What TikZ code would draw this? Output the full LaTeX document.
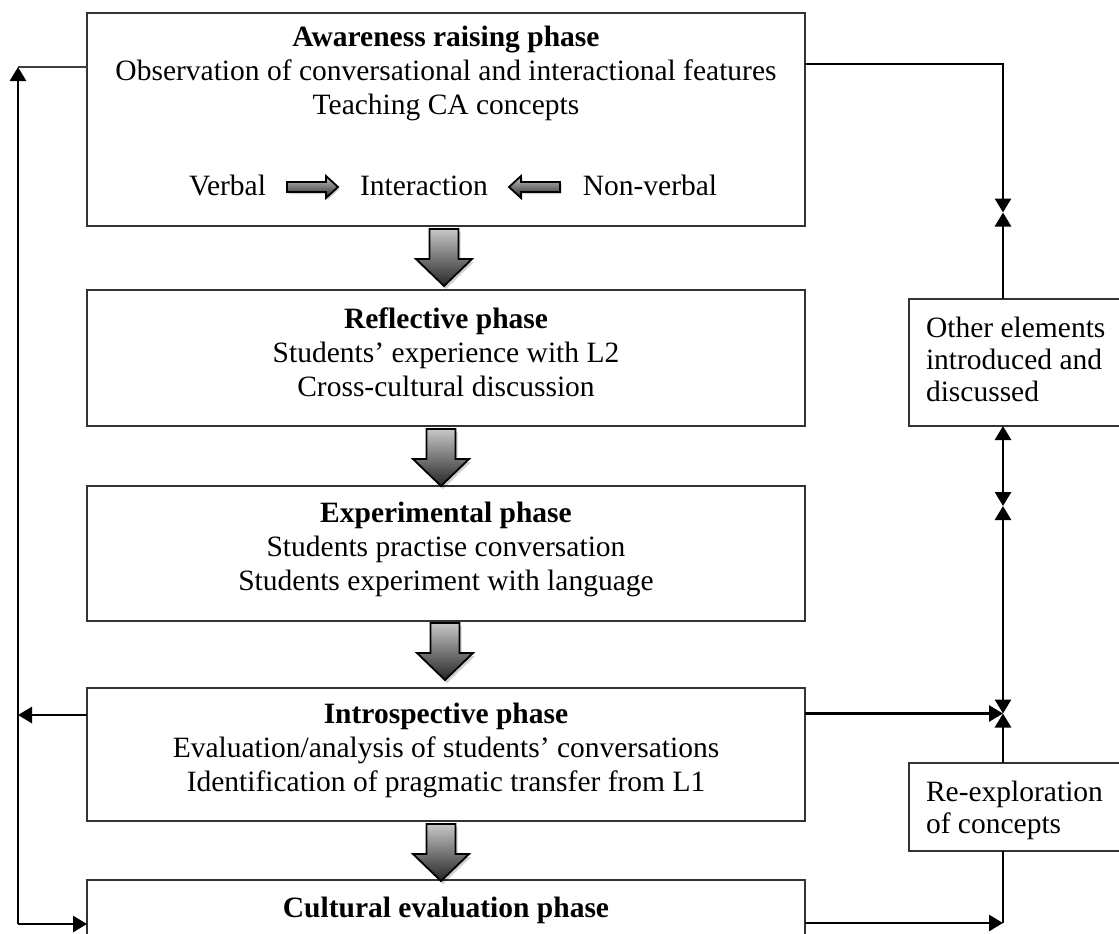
\documentclass[tikz,border=0pt]{standalone}
\usepackage{fontspec}
\setmainfont{Liberation Serif}
\usetikzlibrary{arrows.meta,calc}
\begin{document}
\begin{tikzpicture}[x=0.5pt,y=-0.5pt,
  every node/.style={font=\fontsize{14.75pt}{17pt}\selectfont, inner sep=0pt, outer sep=0pt},
  phase/.style={draw=black!80, line width=0.7pt},
  txt/.style={align=center},
  sidetxt/.style={align=left, anchor=west, font=\fontsize{14.75pt}{16pt}\selectfont},
  conn/.style={line width=1.4pt, -{Triangle[length=7pt,width=8pt]}},
  both/.style={line width=1.4pt, {Triangle[length=7pt,width=8pt]}-{Triangle[length=7pt,width=8pt]}},
  plainline/.style={line width=1.4pt},
  thinline/.style={line width=0.6pt, draw=black!75},
  blockfill/.style={draw=black, line width=0.9pt, top color=black!22, bottom color=black!85},
  blockshadow/.style={fill=black, opacity=0.18, draw=none},
  pics/downblock/.style={code={
    \path[blockshadow, shift={(2,3)}] (-14.5,0) -- (14.5,0) -- (14.5,30) -- (28,30) -- (0,57) -- (-28,30) -- (-14.5,30) -- cycle;
    \path[blockfill] (-14.5,0) -- (14.5,0) -- (14.5,30) -- (28,30) -- (0,57) -- (-28,30) -- (-14.5,30) -- cycle;}},
  pics/rightblock/.style={code={
    \path[blockshadow, shift={(1.5,2)}] (0,-5) -- (39,-5) -- (39,-11) -- (51,0) -- (39,11) -- (39,5) -- (0,5) -- cycle;
    \path[blockfill] (0,-5) -- (39,-5) -- (39,-11) -- (51,0) -- (39,11) -- (39,5) -- (0,5) -- cycle;}},
  pics/leftblock/.style={code={
    \path[blockshadow, shift={(1.5,2)}] (0,-5) -- (-39,-5) -- (-39,-11) -- (-51,0) -- (-39,11) -- (-39,5) -- (0,5) -- cycle;
    \path[blockfill] (0,-5) -- (-39,-5) -- (-39,-11) -- (-51,0) -- (-39,11) -- (-39,5) -- (0,5) -- cycle;}}
]
\useasboundingbox (0,0) rectangle (1119,933);
\clip (0,0) rectangle (1119,933);
\fill[white] (0,0) rectangle (1119,933);

% main phase boxes
\node[phase, minimum width=359pt, minimum height=106.5pt] (b1) at (446,119.5) {};
\node[phase, minimum width=359pt, minimum height=68pt]    (b2) at (446,358) {};
\node[phase, minimum width=359pt, minimum height=67.5pt]  (b3) at (446,553.5) {};
\node[phase, minimum width=359pt, minimum height=66.5pt]  (b4) at (446,754.5) {};
\node[phase, minimum width=359pt, minimum height=50pt]    (b5) at (446,930) {};

% side boxes
\node[phase, minimum width=110.5pt, minimum height=63.5pt] (other) at (1019.5,362.5) {};
\node[phase, minimum width=110.5pt, minimum height=44pt]   (reexp) at (1019.5,807) {};

% texts
\node[txt] (t1) at (446,73.5) {\textbf{Awareness raising phase}\\Observation of conversational and interactional features\\Teaching CA concepts};
\node[anchor=base] (verbal) at (227.5,195) {Verbal};
\node[anchor=base] (interaction) at (424,195) {Interaction};
\node[anchor=base] (nonverbal) at (650,195) {Non-verbal};
\node[txt] (t2) at (446,352.5) {\textbf{Reflective phase}\\Students’ experience with L2\\Cross-cultural discussion};
\node[txt] (t3) at (446,549) {\textbf{Experimental phase}\\Students practise conversation\\Students experiment with language};
\node[txt] (t4) at (446,750.5) {\textbf{Introspective phase}\\Evaluation/analysis of students’ conversations\\Identification of pragmatic transfer from L1};
\node[anchor=base] (t5) at (446,917) {\textbf{Cultural evaluation phase}};
\node[sidetxt] (to) at (926,359) {Other elements\\introduced and\\discussed};
\node[sidetxt] (tr) at (926,810) {Re-exploration\\of concepts};

% block arrows in the first box
\pic at (287,187) {rightblock};
\pic at (560,187) {leftblock};

% block arrows between phases
\pic at ($(b1.south)+(-2,3)$) {downblock};
\pic at ($(b2.south)+(-5,3)$) {downblock};
\pic at ($(b3.south)+(-1,2)$) {downblock};
\pic at ($(b4.south)+(-5,3)$) {downblock};

% left feedback loop
\coordinate (L1) at (18,67);
\coordinate (L3) at (18,715);
\coordinate (L2) at (18,924);
\draw[thinline] (b1.west |- L1) -- (L1);
\draw[conn] (L2) -- (L1);
\draw[conn] (b4.west |- L3) -- (L3);
\draw[conn] (L2) -- (b5.west |- L2);

% right connectors
\coordinate (R1) at (1003,64);
\coordinate (R2) at (1003,212.5);
\coordinate (R3) at (1003,506);
\coordinate (R4) at (1003,713.5);
\coordinate (R5) at (1003,923);
\draw[conn] (b1.east |- R1) -- (R1) -- (R2);
\draw[conn] (R1 |- other.north) -- (R2);
\draw[both] (R1 |- other.south) -- (R3);
\draw[both] (R3) -- (R4);
\draw[conn] (b4.east |- R4) -- (R4);
\draw[conn] (R1 |- reexp.north) -- (R4);
\draw[plainline] (R1 |- reexp.south) -- (R5);
\draw[conn] (b5.east |- R5) -- (R5);
\end{tikzpicture}
\end{document}
